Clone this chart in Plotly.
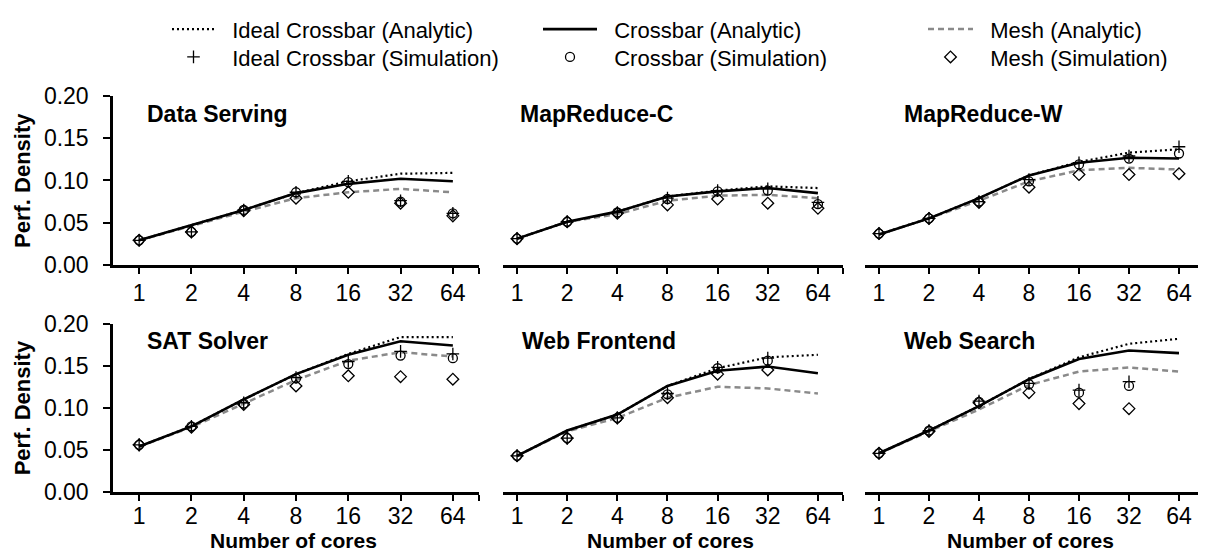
import math
import plotly.graph_objects as go

# ---------------- data ----------------
cores = [1, 2, 4, 8, 16, 32, 64]
core_labels = ["1", "2", "4", "8", "16", "32", "64"]
workloads = ["Data Serving", "MapReduce-C", "MapReduce-W", "SAT Solver", "Web Frontend", "Web Search"]
y_ticks = [0.0, 0.05, 0.10, 0.15, 0.20]

data_serving_ideal_analytic = [0.029, 0.047, 0.065, 0.085, 0.099, 0.108, 0.109]
data_serving_crossbar_analytic = [0.029, 0.047, 0.065, 0.085, 0.096, 0.102, 0.099]
data_serving_mesh_analytic = [0.029, 0.046, 0.063, 0.079, 0.086, 0.090, 0.086]
data_serving_ideal_sim = [0.029, 0.039, 0.065, 0.086, 0.099, 0.076, 0.061]
data_serving_crossbar_sim = [0.029, 0.039, 0.065, 0.086, 0.098, 0.075, 0.061]
data_serving_mesh_sim = [0.029, 0.039, 0.064, 0.079, 0.086, 0.073, 0.058]

mapreduce_c_ideal_analytic = [0.031, 0.051, 0.063, 0.081, 0.088, 0.093, 0.091]
mapreduce_c_crossbar_analytic = [0.031, 0.051, 0.063, 0.081, 0.087, 0.091, 0.085]
mapreduce_c_mesh_analytic = [0.031, 0.051, 0.060, 0.076, 0.082, 0.083, 0.079]
mapreduce_c_ideal_sim = [0.031, 0.051, 0.062, 0.079, 0.088, 0.090, 0.074]
mapreduce_c_crossbar_sim = [0.031, 0.051, 0.062, 0.078, 0.087, 0.088, 0.072]
mapreduce_c_mesh_sim = [0.031, 0.051, 0.061, 0.071, 0.078, 0.073, 0.067]

mapreduce_w_ideal_analytic = [0.036, 0.055, 0.079, 0.106, 0.122, 0.133, 0.137]
mapreduce_w_crossbar_analytic = [0.036, 0.055, 0.079, 0.106, 0.121, 0.127, 0.126]
mapreduce_w_mesh_analytic = [0.036, 0.055, 0.076, 0.099, 0.112, 0.115, 0.113]
mapreduce_w_ideal_sim = [0.037, 0.055, 0.075, 0.101, 0.121, 0.129, 0.140]
mapreduce_w_crossbar_sim = [0.037, 0.055, 0.075, 0.099, 0.119, 0.126, 0.132]
mapreduce_w_mesh_sim = [0.037, 0.055, 0.074, 0.092, 0.107, 0.107, 0.108]

sat_solver_ideal_analytic = [0.054, 0.078, 0.110, 0.140, 0.164, 0.184, 0.184]
sat_solver_crossbar_analytic = [0.054, 0.078, 0.110, 0.140, 0.163, 0.179, 0.174]
sat_solver_mesh_analytic = [0.054, 0.077, 0.105, 0.133, 0.156, 0.166, 0.161]
sat_solver_ideal_sim = [0.056, 0.078, 0.106, 0.136, 0.155, 0.167, 0.164]
sat_solver_crossbar_sim = [0.056, 0.078, 0.105, 0.135, 0.152, 0.162, 0.159]
sat_solver_mesh_sim = [0.056, 0.077, 0.104, 0.126, 0.138, 0.137, 0.134]

web_frontend_ideal_analytic = [0.043, 0.073, 0.092, 0.126, 0.147, 0.160, 0.163]
web_frontend_crossbar_analytic = [0.043, 0.073, 0.092, 0.126, 0.144, 0.149, 0.141]
web_frontend_mesh_analytic = [0.043, 0.072, 0.088, 0.112, 0.125, 0.123, 0.117]
web_frontend_ideal_sim = [0.043, 0.064, 0.088, 0.117, 0.148, 0.159, None]
web_frontend_crossbar_sim = [0.043, 0.064, 0.088, 0.116, 0.147, 0.156, None]
web_frontend_mesh_sim = [0.043, 0.064, 0.088, 0.112, 0.140, 0.145, None]

web_search_ideal_analytic = [0.046, 0.073, 0.102, 0.134, 0.160, 0.176, 0.182]
web_search_crossbar_analytic = [0.046, 0.073, 0.102, 0.134, 0.158, 0.168, 0.165]
web_search_mesh_analytic = [0.046, 0.072, 0.098, 0.127, 0.143, 0.148, 0.143]
web_search_ideal_sim = [0.046, 0.073, 0.108, 0.129, 0.121, 0.131, None]
web_search_crossbar_sim = [0.046, 0.073, 0.107, 0.128, 0.118, 0.126, None]
web_search_mesh_sim = [0.046, 0.072, 0.106, 0.118, 0.105, 0.099, None]

panels = [
    (data_serving_ideal_analytic, data_serving_crossbar_analytic, data_serving_mesh_analytic,
     data_serving_ideal_sim, data_serving_crossbar_sim, data_serving_mesh_sim),
    (mapreduce_c_ideal_analytic, mapreduce_c_crossbar_analytic, mapreduce_c_mesh_analytic,
     mapreduce_c_ideal_sim, mapreduce_c_crossbar_sim, mapreduce_c_mesh_sim),
    (mapreduce_w_ideal_analytic, mapreduce_w_crossbar_analytic, mapreduce_w_mesh_analytic,
     mapreduce_w_ideal_sim, mapreduce_w_crossbar_sim, mapreduce_w_mesh_sim),
    (sat_solver_ideal_analytic, sat_solver_crossbar_analytic, sat_solver_mesh_analytic,
     sat_solver_ideal_sim, sat_solver_crossbar_sim, sat_solver_mesh_sim),
    (web_frontend_ideal_analytic, web_frontend_crossbar_analytic, web_frontend_mesh_analytic,
     web_frontend_ideal_sim, web_frontend_crossbar_sim, web_frontend_mesh_sim),
    (web_search_ideal_analytic, web_search_crossbar_analytic, web_search_mesh_analytic,
     web_search_ideal_sim, web_search_crossbar_sim, web_search_mesh_sim),
]

# ---------------- layout helpers ----------------
PAGE_W, PAGE_H = 1206, 554
OFF = 8                       # default page margin before the plot div
W, H = PAGE_W - OFF, PAGE_H - OFF
FONT = "Liberation Sans, Arial, sans-serif"
GRAY = "#8a8a8a"
NB = "\u00a0\u00a0"           # small gap between legend symbol and text


def fx(p):
    return min(1.0, max(0.0, (p - OFF) / W))


def fy(p):
    return min(1.0, max(0.0, 1 - (p - OFF) / H))


col_dom = [(113, 479), (503, 843), (865, 1204)]
col_low = [0.5, 0.28, 0.28]            # left padding in category steps
row_dom = [(85, 257.7), (318, 490.5)]
L2 = math.log10(2)

fig = go.Figure()

for i, series in enumerate(panels):
    ia, ca, ma, isim, csim, msim = series
    ax = "" if i == 0 else str(i + 1)
    xr, yr = "x" + ax, "y" + ax
    first = (i == 0)
    fig.add_trace(go.Scatter(x=cores, y=ma, xaxis=xr, yaxis=yr, mode="lines",
                             line=dict(color=GRAY, width=2.5, dash="6px,4px"),
                             name=NB + "Mesh (Analytic)", legend="legend3", showlegend=first))
    fig.add_trace(go.Scatter(x=cores, y=ia, xaxis=xr, yaxis=yr, mode="lines",
                             line=dict(color="black", width=2.2, dash="2px,3px"),
                             name=NB + "Ideal Crossbar (Analytic)", legend="legend", showlegend=first))
    fig.add_trace(go.Scatter(x=cores, y=ca, xaxis=xr, yaxis=yr, mode="lines",
                             line=dict(color="black", width=2.6),
                             name=NB + "Crossbar (Analytic)", legend="legend2", showlegend=first))
    fig.add_trace(go.Scatter(x=cores, y=msim, xaxis=xr, yaxis=yr, mode="markers",
                             marker=dict(symbol="diamond-open", size=9, color="black",
                                         line=dict(width=1.3, color="black")),
                             name=NB + "Mesh (Simulation)", legend="legend6", showlegend=first))
    fig.add_trace(go.Scatter(x=cores, y=csim, xaxis=xr, yaxis=yr, mode="markers",
                             marker=dict(symbol="circle-open", size=9, color="black",
                                         line=dict(width=1.3, color="black")),
                             name=NB + "Crossbar (Simulation)", legend="legend5", showlegend=first))
    fig.add_trace(go.Scatter(x=cores, y=isim, xaxis=xr, yaxis=yr, mode="markers",
                             marker=dict(symbol="cross-thin-open", size=9, color="black",
                                         line=dict(width=1.3, color="black")),
                             name=NB + "Ideal Crossbar (Simulation)", legend="legend4", showlegend=first))

layout = dict(
    width=W, height=H,
    margin=dict(l=0, r=0, t=0, b=0),
    paper_bgcolor="white", plot_bgcolor="white",
    font=dict(family=FONT, size=22, color="black"),
    template="none",
)

tick_font = dict(family=FONT, size=23, color="black")
x_standoff = [0, -4]
for i in range(6):
    r, c = divmod(i, 3)
    ax = "" if i == 0 else str(i + 1)
    lo = math.log10(cores[0]) - col_low[c] * L2
    hi = math.log10(cores[-1]) + 0.5 * L2
    layout["xaxis" + ax] = dict(
        type="log", range=[lo, hi], domain=[fx(col_dom[c][0]), fx(col_dom[c][1])],
        anchor="y" + ax, tickvals=cores + [cores[-1] * math.sqrt(2)],
        ticktext=core_labels + [""], ticks="outside", ticklen=6, tickwidth=2,
        tickcolor="black", showline=True, linewidth=2.5, linecolor="black",
        showgrid=False, zeroline=False, tickfont=tick_font, automargin=False,
        ticklabelstandoff=x_standoff[r],
    )
    layout["yaxis" + ax] = dict(
        range=[0, 0.2], domain=[fy(row_dom[r][1]), fy(row_dom[r][0])],
        anchor="x" + ax, tickvals=y_ticks, tickformat=".2f",
        showgrid=False, zeroline=False, automargin=False, tickfont=tick_font,
        showline=(c == 0), linewidth=2.5, linecolor="black",
        ticks="outside" if c == 0 else "", ticklen=7, tickwidth=2, tickcolor="black",
        showticklabels=(c == 0), ticklabelstandoff=10,
    )

# six one-entry legends laid out as 2 rows x 3 columns
leg_origin_x = [167, 538, 923]       # left edge of each legend column
leg_item_w = [43, 54, 45]            # symbol width of each column
leg_row_y = [16.5, 45]
leg_names = ["legend", "legend2", "legend3", "legend4", "legend5", "legend6"]
for k, lname in enumerate(leg_names):
    r, c = divmod(k, 3)
    layout[lname] = dict(orientation="v", xanchor="left", yanchor="middle",
                         x=fx(leg_origin_x[c]), y=fy(leg_row_y[r]),
                         itemwidth=leg_item_w[c],
                         bgcolor="rgba(0,0,0,0)", borderwidth=0,
                         font=dict(family=FONT, size=22, color="black"))

annotations = []
title_pos = [(145, 103), (518, 103), (902, 103), (145, 335.5), (520, 335.5), (902, 335.5)]
for name, (px, py) in zip(workloads, title_pos):
    annotations.append(dict(text="<b>%s</b>" % name, xref="paper", yref="paper",
                            x=fx(px), y=fy(py), xanchor="left", yanchor="middle",
                            showarrow=False, font=dict(family=FONT, size=23, color="black")))
for r in range(2):
    annotations.append(dict(text="<b>Perf. Density</b>", xref="paper", yref="paper",
                            x=fx(22.5), y=fy((row_dom[r][0] + row_dom[r][1]) / 2),
                            xanchor="center", yanchor="middle", textangle=-90,
                            showarrow=False, font=dict(family=FONT, size=22, color="black")))
for cx in (293, 670, 1030):
    annotations.append(dict(text="<b>Number of cores</b>", xref="paper", yref="paper",
                            x=fx(cx), y=fy(540), xanchor="center", yanchor="middle",
                            showarrow=False, font=dict(family=FONT, size=21, color="black")))
layout["annotations"] = annotations

fig.update_layout(**layout)
fig.write_html("out.html")
